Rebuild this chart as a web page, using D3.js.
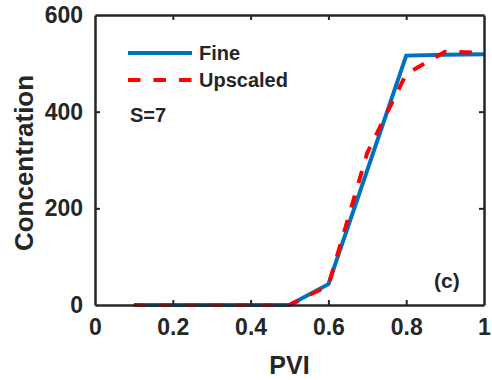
<!DOCTYPE html>
<html><head><meta charset="utf-8">
<script src="https://cdn.jsdelivr.net/npm/d3@7"></script>
<style>body{margin:0;background:#fff}svg{display:block}text{font-family:"Liberation Sans",Arial,sans-serif;font-weight:bold;fill:#262626}</style>
</head><body><svg id="c" width="492" height="380"></svg>
<script>
const pvi = [0.1,0.2,0.3,0.4,0.5,0.6,0.7,0.8,0.9,1.0];
const fine = [0,0,0,0,0,43,279,516,518,519];
const upscaled = [0,0,0,0,0,40,315,478,524,522];
const xTicks = [0,0.2,0.4,0.6,0.8,1];
const xTickLabels = ["0","0.2","0.4","0.6","0.8","1"];
const yTicks = [0,200,400,600];
const seriesNames = ["Fine","Upscaled"];

const svg = d3.select("#c");
const L=95,R=484,T=15,B=305;
const x = d3.scaleLinear().domain([0,1]).range([L,R]);
const y = d3.scaleLinear().domain([0,600]).range([B,T]);
const axisCol="#262626";

const line = d3.line().x((d,i)=>x(pvi[i])).y(d=>y(d));
svg.append("path").datum(fine).attr("d",line).attr("fill","none")
  .attr("stroke","#0072BD").attr("stroke-width",4).attr("stroke-linejoin","miter");
svg.append("path").datum(upscaled).attr("d",line).attr("fill","none")
  .attr("stroke","#FF0000").attr("stroke-width",4).attr("stroke-dasharray","12.5,13");

// axes
const ax = svg.append("g").attr("transform",`translate(0,${B})`)
  .call(d3.axisBottom(x).tickValues(xTicks).tickFormat((d,i)=>xTickLabels[i]).tickSizeInner(-5).tickSizeOuter(0).tickPadding(14));
const axT = svg.append("g").attr("transform",`translate(0,${T})`)
  .call(d3.axisTop(x).tickValues(xTicks).tickFormat("").tickSizeInner(-5).tickSizeOuter(0));
const ay = svg.append("g").attr("transform",`translate(${L},0)`)
  .call(d3.axisLeft(y).tickValues(yTicks).tickSizeInner(-5).tickSizeOuter(0).tickPadding(12));
const ayR = svg.append("g").attr("transform",`translate(${R},0)`)
  .call(d3.axisRight(y).tickValues(yTicks).tickFormat("").tickSizeInner(-5).tickSizeOuter(0));
[ax,axT,ay,ayR].forEach(g=>{
  g.select(".domain").attr("stroke",axisCol).attr("stroke-width",2.5);
  g.selectAll(".tick line").attr("stroke",axisCol).attr("stroke-width",2);
  g.selectAll("text").attr("font-size",23).attr("font-family","Liberation Sans, Arial, sans-serif").attr("font-weight","bold").attr("fill",axisCol);
});
ax.selectAll(".tick line").filter(d=>d===0||d===1).remove();
axT.selectAll(".tick line").filter(d=>d===0||d===1).remove();
ay.selectAll(".tick line").filter(d=>d===0||d===600).remove();
ayR.selectAll(".tick line").filter(d=>d===0||d===600).remove();

svg.append("text").attr("x",(L+R)/2).attr("y",374).attr("text-anchor","middle").attr("font-size",25).text("PVI");
svg.append("text").attr("transform",`translate(33,${(T+B)/2+3}) rotate(-90)`).attr("text-anchor","middle").attr("font-size",26).text("Concentration");

// legend
const leg = [{c:"#0072BD",d:null,y:53},{c:"#FF0000",d:"12.5,13",y:80}];
leg.forEach((l,i)=>{
  svg.append("line").attr("x1",128).attr("x2",192).attr("y1",l.y).attr("y2",l.y)
    .attr("stroke",l.c).attr("stroke-width",4).attr("stroke-dasharray",l.d);
  svg.append("text").attr("x",199).attr("y",l.y+7).attr("font-size",20).text(seriesNames[i]);
});
svg.append("text").attr("x",130).attr("y",122).attr("font-size",20).text("S=7");
svg.append("text").attr("x",434).attr("y",288).attr("font-size",21).text("(c)");
</script></body></html>
